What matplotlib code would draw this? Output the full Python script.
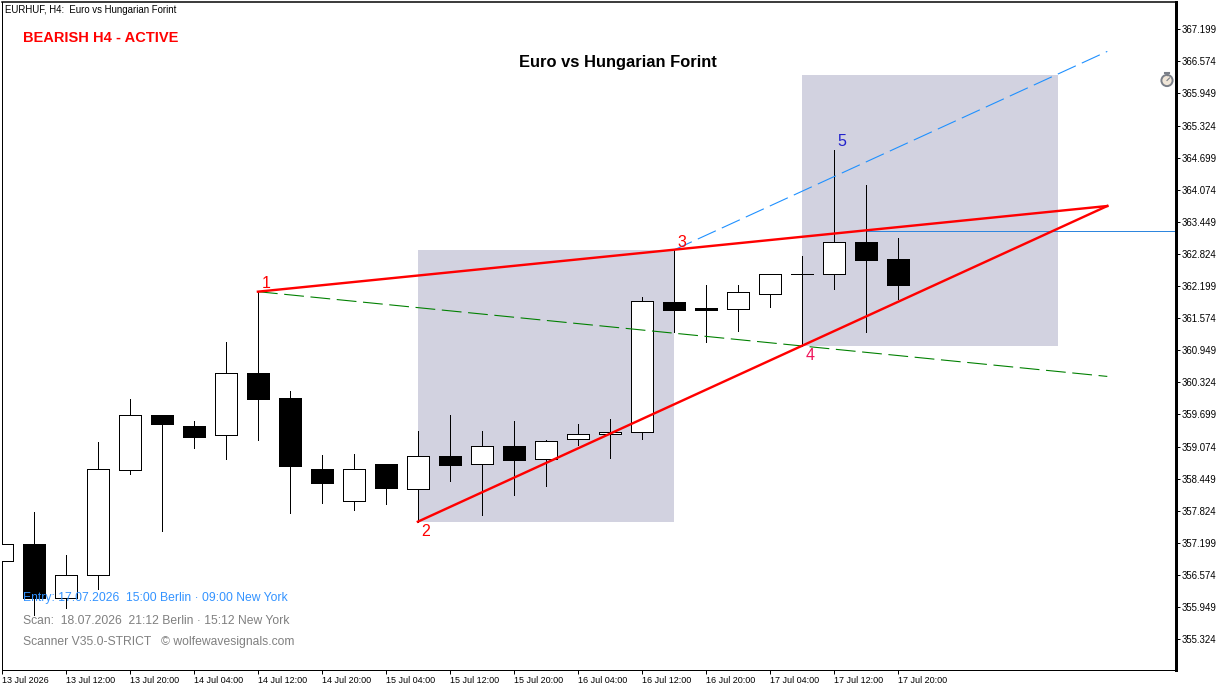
import matplotlib
matplotlib.use("Agg")
import matplotlib.pyplot as plt
from matplotlib.patches import Rectangle, Circle

plt.rcParams['font.family'] = ['Liberation Sans']

W, H = 1229, 691
L, R, T, B = 2, 1176, 2, 670

opens  = [356.840,357.177,356.120,356.568,358.612,359.689,359.475,359.294,360.507,360.020,
          358.638,358.009,358.735,358.242,358.891,358.729,359.085,358.826,359.216,359.313,
          359.352,361.889,361.772,361.747,362.039,362.428,362.428,363.057,362.726]
closes = [357.171,356.126,356.568,358.632,359.683,359.520,359.261,360.501,360.006,358.702,
          358.365,358.632,358.268,358.885,358.715,359.080,358.813,359.177,359.313,359.352,
          361.903,361.733,361.733,362.078,362.428,362.428,363.051,362.713,362.226]
highs  = [357.171,357.800,356.963,359.163,360.001,359.689,359.572,361.110,362.090,360.156,
          358.910,358.930,358.735,359.377,359.689,359.377,359.572,359.202,359.514,359.611,
          361.986,362.901,362.220,362.220,362.428,362.785,364.848,364.167,363.135]
lows   = [356.840,355.795,355.937,356.307,358.540,357.436,359.046,358.838,359.208,357.787,
          357.981,357.845,357.962,357.612,358.410,357.748,358.137,358.307,359.105,358.858,
          359.222,361.305,361.116,361.330,361.798,361.032,362.148,361.311,361.947]

price_ticks = [367.199,366.574,365.949,365.324,364.699,364.074,363.449,362.824,362.199,361.574,
               360.949,360.324,359.699,359.074,358.449,357.824,357.199,356.574,355.949,355.324]
time_labels = ["13 Jul 2026","13 Jul 12:00","13 Jul 20:00","14 Jul 04:00","14 Jul 12:00",
               "14 Jul 20:00","15 Jul 04:00","15 Jul 12:00","15 Jul 20:00","16 Jul 04:00",
               "16 Jul 12:00","16 Jul 20:00","17 Jul 04:00","17 Jul 12:00","17 Jul 20:00"]

# wave points (bar index, price)
p1 = (8, 362.090)
p2 = (13, 357.612)
p3 = (21, 362.901)
p4 = (25, 361.032)
apex = (34.55, 363.758)
blue_end = (34.55, 366.768)
green_end = (34.55, 360.440)
box1 = (13, 21, 357.612, 362.901)
box2 = (25, 33, 361.032, 366.309)
last_price = 363.265

PX = 0.72
fig = plt.figure(figsize=(W/100, H/100), dpi=100, facecolor="white")
ax = fig.add_axes([L/W, 1-B/H, (R-L)/W, (B-T)/H])
ax.set_xlim(0.008, 36.698)
ax.set_ylim(354.724, 367.730)

BOX = "#D2D2E0"
for b in (box1, box2):
    ax.add_patch(Rectangle((b[0], b[2]), b[1]-b[0], b[3]-b[2], fc=BOX, ec="none", zorder=1, antialiased=False))

ax.plot([27.0, 36.698], [last_price]*2, color="#2E86DE", lw=PX, zorder=2, antialiased=True)

for i, (o, h, l, c) in enumerate(zip(opens, highs, lows, closes)):
    ax.plot([i, i], [l, h], color="black", lw=PX, zorder=3, solid_capstyle="butt", antialiased=False)
    up = c >= o
    top, bot = max(o, c), min(o, c)
    ax.add_patch(Rectangle((i-0.34, bot), 0.68, top-bot, fc="white" if up else "black",
                           ec="black", lw=PX, zorder=4, antialiased=False))

ax.plot([p3[0], blue_end[0]], [p3[1], blue_end[1]], color="#1E90FF", lw=1.1*PX,
        ls=(0, (18, 6)), zorder=5, antialiased=True)
ax.plot([p1[0], green_end[0]], [p1[1], green_end[1]], color="#008000", lw=1.1*PX,
        ls=(0, (18, 6)), zorder=5, antialiased=True)
ax.plot([p1[0], apex[0]], [p1[1], apex[1]], color="#FF0000", lw=2.4*PX, zorder=6, antialiased=True)
ax.plot([p2[0], apex[0]], [p2[1], apex[1]], color="#FF0000", lw=2.4*PX, zorder=6, antialiased=True)

for s in ax.spines.values():
    s.set_color("black")
    s.set_linewidth(PX)
ax.spines["right"].set_linewidth(3*PX)
ax.spines["top"].set_linewidth(1.5*PX)

ax.yaxis.tick_right()
ax.set_yticks(price_ticks)
ax.set_yticklabels([f"{p:.3f}" for p in price_ticks])
ax.set_xticks(list(range(0, 2*len(time_labels), 2)))
ax.set_xticklabels(time_labels, ha="left")
ax.tick_params(axis="y", length=3.2, width=PX, pad=0.6, labelsize=6.9, colors="black")
ax.tick_params(axis="x", length=3.2, width=PX, pad=1.2, labelsize=6.5, colors="black")

def txt(x, y, s, **kw):
    fig.text(x/W, 1-y/H, s, va="center", **kw)

txt(5, 10, "EURHUF, H4:  Euro vs Hungarian Forint", fontsize=6.95, color="black", ha="left")
txt(23, 37.5, "BEARISH H4 - ACTIVE", fontsize=10.5, weight="bold", color="#FF0000", ha="left")
txt(617.5, 62.5, "Euro vs Hungarian Forint", fontsize=11.9, weight="bold", color="black", ha="center")
txt(23, 598.5, "Entry: 17.07.2026  15:00 Berlin \u00b7 09:00 New York", fontsize=8.7, color="#3393FF", ha="left")
txt(23, 620.5, "Scan:  18.07.2026  21:12 Berlin \u00b7 15:12 New York", fontsize=8.75, color="#808080", ha="left")
txt(23, 642.5, "Scanner V35.0-STRICT   \u00a9 wolfewavesignals.com", fontsize=8.75, color="#808080", ha="left")

for lab, x, y, col in [("1", 266, 284, "#FF0000"), ("2", 426, 532, "#FF0000"), ("3", 682, 242, "#FF0000"),
                       ("4", 810, 356, "#F0145A"), ("5", 842, 142, "#2222CC")]:
    txt(x, y, lab, fontsize=11.5, color=col, ha="center")

# stopwatch glyph
ic = fig.add_axes([1158/W, 1-88/H, 18/W, 18/H])
ic.set_xlim(0, 18); ic.set_ylim(18, 0); ic.axis("off")
ic.add_patch(Circle((9, 10.5), 5.6, fc="#F0E6D8", ec="#7A7F88", lw=1.4))
ic.plot([7, 11], [2.5, 2.5], color="#7A7F88", lw=1.5)
ic.plot([9, 9], [2.5, 5], color="#7A7F88", lw=1.0)
ic.plot([9, 11.5], [10.5, 8], color="#7A7F88", lw=0.8)

fig.savefig("out.png", dpi=100, facecolor="white")
